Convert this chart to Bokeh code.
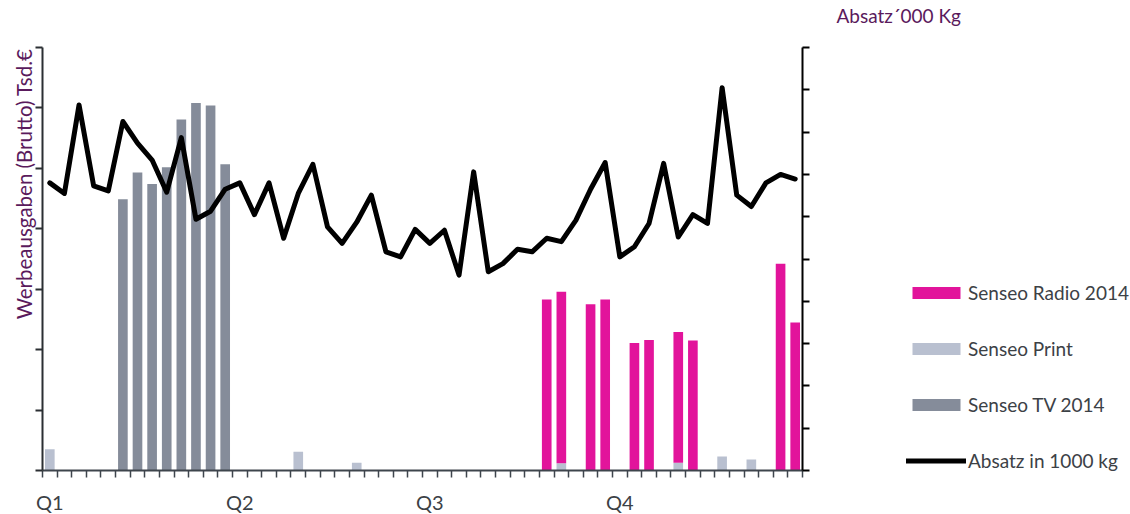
from bokeh.plotting import figure
from bokeh.models import (Range1d, LinearAxis, FixedTicker, Legend, LegendItem, Title,
                          ColumnDataSource, CustomJSTickFormatter)
from bokeh.embed import file_html
from bokeh.resources import INLINE

# ---------------- data ----------------
weeks = list(range(1, 53))
quarter_labels = ["Q1", "Q2", "Q3", "Q4"]
quarter_start_weeks = [1, 14, 27, 40]

# Werbeausgaben (left axis, arbitrary units, no tick labels shown)
senseo_tv = [0, 0, 0, 0, 0, 449, 493, 474, 502, 581, 608, 604, 507,
             0, 0, 0, 0, 0, 0, 0, 0, 0, 0, 0, 0, 0,
             0, 0, 0, 0, 0, 0, 0, 0, 0, 0, 0, 0, 0,
             0, 0, 0, 0, 0, 0, 0, 0, 0, 0, 0, 0, 0]
senseo_print = [35, 0, 0, 0, 0, 0, 0, 0, 0, 0, 0, 0, 0,
                0, 0, 0, 0, 31, 0, 0, 0, 13, 0, 0, 0, 0,
                0, 0, 0, 0, 0, 0, 0, 0, 0, 12, 0, 0, 0,
                0, 0, 0, 0, 13, 0, 0, 23, 0, 18, 0, 0, 0]
senseo_radio = [0, 0, 0, 0, 0, 0, 0, 0, 0, 0, 0, 0, 0,
                0, 0, 0, 0, 0, 0, 0, 0, 0, 0, 0, 0, 0,
                0, 0, 0, 0, 0, 0, 0, 0, 283, 284, 0, 275, 283,
                0, 211, 216, 0, 216, 215, 0, 0, 0, 0, 0, 342, 245]
# Absatz in 1000 kg (right axis)
absatz = [6.80, 6.55, 8.64, 6.73, 6.61, 8.25, 7.74, 7.34, 6.58, 7.87, 5.94, 6.13, 6.65,
          6.80, 6.05, 6.80, 5.49, 6.55, 7.24, 5.76, 5.37, 5.87, 6.51, 5.17, 5.05, 5.70,
          5.37, 5.68, 4.62, 7.06, 4.70, 4.89, 5.23, 5.17, 5.49, 5.41, 5.92, 6.65, 7.28,
          5.05, 5.29, 5.84, 7.26, 5.52, 6.05, 5.84, 9.05, 6.51, 6.24, 6.80, 7.00, 6.89]

left_ticks = [0, 100, 200, 300, 400, 500, 600, 700]
right_ticks = [0, 1, 2, 3, 4, 5, 6, 7, 8, 9, 10]

legend_labels = ["Senseo Radio 2014", "Senseo Print", "Senseo TV 2014", "Absatz in 1000 kg"]
left_title = "Werbeausgaben (Brutto) Tsd.€"
right_title = "Absatz´000 Kg"

# ---------------- styling ----------------
FONT = "Lato"
TXT = "#3c4146"
PURPLE = "#5a1a5c"
C_RADIO = "#e2149b"
C_PRINT = "#b9c0d0"
C_TV = "#858c9a"

src = ColumnDataSource(dict(
    x=[w - 0.5 for w in weeks],
    print_=senseo_print, radio=senseo_radio, tv=senseo_tv, absatz=absatz,
))

p = figure(frame_width=760, frame_height=423,
           x_range=Range1d(0, len(weeks)), y_range=Range1d(left_ticks[0], left_ticks[-1]),
           output_backend="svg", toolbar_location=None,
           min_border_left=42, min_border_top=47, min_border_right=328, min_border_bottom=40,
           background_fill_color="white", border_fill_color="white")
p.outline_line_color = None
p.xgrid.visible = False
p.ygrid.visible = False
p.extra_y_ranges = {"right": Range1d(right_ticks[0], right_ticks[-1])}

bars = p.vbar_stack(["print_", "radio", "tv"], x="x", width=0.66, source=src,
                    fill_color=[C_PRINT, C_RADIO, C_TV], line_color=None)
r_print, r_radio, r_tv = bars

r_line = p.line(x="x", y="absatz", source=src, y_range_name="right",
                line_color="black", line_width=5, line_join="round", line_cap="round")

blank = CustomJSTickFormatter(code="return ''")

# bottom axis
xa = p.xaxis[0]
xa.ticker = FixedTicker(ticks=[w - 0.5 for w in quarter_start_weeks],
                        minor_ticks=[i for i in range(len(weeks) + 1)])
xa.major_label_overrides = {w - 0.5: lbl for w, lbl in zip(quarter_start_weeks, quarter_labels)}
xa.major_tick_out = 0
xa.major_tick_in = 0
xa.minor_tick_out = 7
xa.minor_tick_in = 0
xa.minor_tick_line_color = "#3e454c"
xa.minor_tick_line_width = 1.5
xa.axis_line_color = "#3e454c"
xa.axis_line_width = 2
xa.major_label_text_font = FONT
xa.major_label_text_font_size = "20px"
xa.major_label_text_color = TXT
xa.major_label_standoff = 12

# left axis
ya = p.yaxis[0]
ya.ticker = FixedTicker(ticks=left_ticks)
ya.formatter = blank
ya.minor_tick_line_color = None
ya.major_tick_out = 7
ya.major_tick_in = 0
ya.major_tick_line_width = 2
ya.major_tick_line_color = "#2b2f33"
ya.axis_line_color = "#2b2f33"
ya.axis_line_width = 2

# left title (vertical, aligned to the top of the axis)
p.add_layout(Title(text=left_title, align="right", offset=1, standoff=0,
                   text_font=FONT, text_font_size="20.5px", text_font_style="normal",
                   text_color=PURPLE), "left")

# right axis
ra = LinearAxis(y_range_name="right", ticker=FixedTicker(ticks=right_ticks), formatter=blank)
ra.minor_tick_line_color = None
ra.major_tick_out = 7
ra.major_tick_in = 0
ra.major_tick_line_width = 2
ra.major_tick_line_color = "black"
ra.axis_line_color = "black"
ra.axis_line_width = 2
p.add_layout(ra, "right")

# invisible top axis (one white tick in an empty spot) that only reserves a band above the frame
ta = LinearAxis(ticker=FixedTicker(ticks=[len(weeks) / 2]), formatter=blank,
                axis_line_color=None, major_tick_line_color="white", major_tick_line_width=1,
                minor_tick_line_color=None,
                major_tick_out=21, major_tick_in=0, major_label_standoff=0)
p.add_layout(ta, "above")

# unit label of the right axis, above it
p.add_layout(Title(text=right_title, align="left", offset=794, standoff=0,
                   vertical_align="bottom",
                   text_font=FONT, text_font_size="19px", text_font_style="normal",
                   text_color=PURPLE), "above")

legend = Legend(items=[LegendItem(label=legend_labels[0], renderers=[r_radio]),
                       LegendItem(label=legend_labels[1], renderers=[r_print]),
                       LegendItem(label=legend_labels[2], renderers=[r_tv]),
                       LegendItem(label=legend_labels[3], renderers=[r_line])],
                location=(-123, -2), orientation="vertical",
                glyph_width=60, glyph_height=15, label_standoff=2,
                spacing=33, padding=0, margin=0,
                border_line_color=None, background_fill_alpha=0,
                label_text_font=FONT, label_text_font_size="19px",
                label_text_color=TXT, label_height=20)
p.add_layout(legend, "right")

open("out.html", "w").write(file_html(p, INLINE))
